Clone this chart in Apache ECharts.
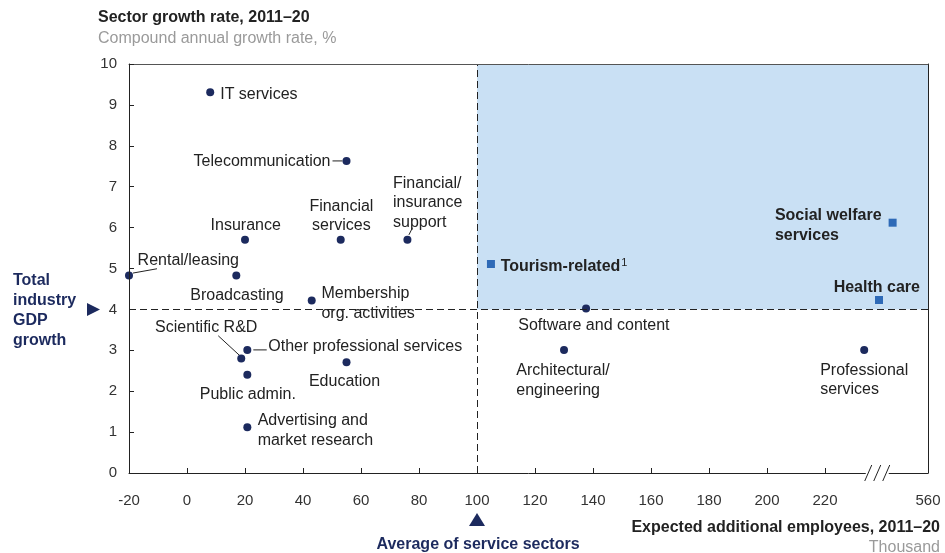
<!DOCTYPE html>
<html>
<head>
<meta charset="utf-8">
<script src="https://cdn.jsdelivr.net/npm/echarts@6/dist/echarts.min.js"></script>
<style>
html,body{margin:0;padding:0;background:#fff;}
#chart{width:945px;height:553px;}
</style>
</head>
<body>
<div id="chart"></div>
<script>
// ---------- data ----------
const dotNames = ['IT services','Telecommunication','Insurance','Financial services','Financial/insurance support','Rental/leasing','Broadcasting','Membership org. activities','Scientific R&D','Other professional services','Public admin.','Education','Advertising and market research','Software and content','Architectural/engineering','Professional services'];
const dotLabels = ['IT services','Telecommunication','Insurance','Financial\nservices','Financial/\ninsurance\nsupport','Rental/leasing','Broadcasting','Membership\n{w|org. activities}','Scientific R&D','Other professional services','Public admin.','Education','Advertising and\nmarket research','Software and content','Architectural/\nengineering','Professional\nservices'];
const dotX = [8, 55, 20, 53, 76, -20, 17, 43, 18.7, 20.8, 20.8, 55, 20.8, 137.6, 130, 233.5];
const dotY = [9.31, 7.63, 5.7, 5.7, 5.7, 4.83, 4.83, 4.22, 2.8, 3.01, 2.4, 2.71, 1.12, 4.02, 3.01, 3.01];

const sqNames = ['Tourism-related','Social welfare services','Health care'];
const sqLabels = ['{b|Tourism-related}{s|1}','{b|Social welfare}\n{b|services}','{b|Health care}'];
const sqX = [104.8, 243.3, 238.6];
const sqY = [5.11, 6.12, 4.23];

const avgX = 100;      // average of service sectors (thousand)
const gdpY = 4;        // total industry GDP growth (%)
const breakX = 238;    // axis break position
const xMin = -20, xMax = 255.5, xStep = 20;
const xMaxLabel = '560';
const yMin = 0, yMax = 10, yStep = 1;

// ---------- styles ----------
const FONT = "'Liberation Sans', Arial, Helvetica, sans-serif";
const TXT = '#222';
const NAVY = '#1c2a5e';
const BLUE = '#2e6ab7';
const SHADE = '#c9e0f4';
const GREY = '#9a9a9a';

// label offsets from point centre [dx, dy, align]
const dotLabelPos = [
  [10, 2, 'left'], [-16, 0.5, 'right'], [0.7, -14.5, 'center'], [0.7, -24, 'center'],
  [-14.4, -37, 'left'], [8.6, -15, 'left'], [0.7, 20, 'center'], [9.7, 3.3, 'left'],
  [-35, -30.5, 'center'], [21, -3, 'left'], [0.5, 19.8, 'center'], [-2, 19.2, 'center'],
  [10.3, 3.5, 'left'], [7.8, 16.8, 'center'], [-47.7, 30.5, 'left'], [-44, 30, 'left']
];
const sqLabelPos = [[9.7, 3, 'left'], [-117.7, 3, 'left'], [-2.2, -12.2, 'center']];
// leader lines: [x1, y1, x2, y2] px relative to point centre
const leaderPos = {
  'Telecommunication': [-14, 0, -4, 0],
  'Rental/leasing': [4, -2.4, 28, -6.7],
  'Financial/insurance support': [1.5, -5, 5, -12],
  'Scientific R&D': [-23, -22.7, -1.3, -2.7],
  'Other professional services': [6, 0, 19.4, 0]
};

function layoutFrom(pos) {
  return function (p) {
    const o = pos[p.dataIndex];
    return {
      x: p.rect.x + p.rect.width / 2 + o[0],
      y: p.rect.y + p.rect.height / 2 + o[1],
      align: o[2],
      verticalAlign: 'middle'
    };
  };
}

const chart = echarts.init(document.getElementById('chart'), null, {renderer: 'canvas'});

const option = {
  animation: false,
  textStyle: {fontFamily: FONT},
  grid: {left: 129, right: 17, top: 64, bottom: 80, show: false},
  xAxis: [{
    type: 'value', min: xMin, max: xMax, interval: xStep,
    axisLine: {show: true, onZero: false, lineStyle: {color: TXT, width: 1}},
    axisTick: {show: true, inside: true, length: 5, lineStyle: {color: TXT}},
    axisLabel: {
      margin: 20, fontSize: 15, color: '#333', fontFamily: FONT,
      showMaxLabel: true, showMinLabel: true,
      formatter: function (v) {
        if (v >= xMax - 0.01) return xMaxLabel;
        if (v > breakX - 5) return '';
        return String(v);
      }
    },
    splitLine: {show: false}, z: 10
  }, {
    type: 'value', position: 'top', min: xMin, max: xMax,
    axisLine: {show: true, onZero: false, lineStyle: {color: '#555', width: 1}},
    axisTick: {show: false}, axisLabel: {show: false}, splitLine: {show: false}, z: 10
  }],
  yAxis: [{
    type: 'value', min: yMin, max: yMax, interval: yStep,
    axisLine: {show: true, onZero: false, lineStyle: {color: TXT, width: 1}},
    axisTick: {show: true, inside: true, length: 5, lineStyle: {color: TXT}},
    axisLabel: {margin: 12, fontSize: 15, color: '#333', fontFamily: FONT},
    splitLine: {show: false}, z: 10
  }, {
    type: 'value', position: 'right', min: yMin, max: yMax,
    axisLine: {show: true, onZero: false, lineStyle: {color: TXT, width: 1}},
    axisTick: {show: false}, axisLabel: {show: false}, splitLine: {show: false}, z: 10
  }],
  series: [
    {
      type: 'scatter', data: [], z: 1, silent: true,
      markArea: {
        silent: true,
        itemStyle: {color: SHADE, opacity: 1},
        data: [[{xAxis: avgX, yAxis: gdpY}, {xAxis: xMax, yAxis: yMax}]]
      }
    },
    {
      type: 'scatter', data: [], z: 2, silent: true,
      markLine: {
        silent: true, symbol: 'none', label: {show: false},
        lineStyle: {color: TXT, width: 1, type: [7, 4], opacity: 1},
        data: [{xAxis: avgX}, {yAxis: gdpY}]
      }
    },
    {
      type: 'custom', z: 3, silent: true,
      data: dotNames.map((n, i) => [dotX[i], dotY[i]]),
      renderItem: function (params, api) {
        const l = leaderPos[dotNames[params.dataIndex]];
        if (!l) return null;
        const p = api.coord([api.value(0), api.value(1)]);
        return {
          type: 'line',
          shape: {x1: p[0] + l[0], y1: p[1] + l[1], x2: p[0] + l[2], y2: p[1] + l[3]},
          style: {stroke: TXT, lineWidth: 1}
        };
      }
    },
    {
      type: 'scatter', z: 4, symbol: 'circle', symbolSize: 8,
      itemStyle: {color: NAVY, opacity: 1},
      data: dotNames.map((n, i) => ({name: n, value: [dotX[i], dotY[i]]})),
      label: {
        show: true, color: TXT, fontSize: 16, lineHeight: 19.5, fontFamily: FONT,
        formatter: p => dotLabels[p.dataIndex],
        rich: {
          w: {color: TXT, fontSize: 16, lineHeight: 19.5, fontFamily: FONT, backgroundColor: '#fff'}
        }
      },
      labelLayout: layoutFrom(dotLabelPos)
    },
    {
      type: 'scatter', z: 4, symbol: 'rect', symbolSize: 8,
      itemStyle: {color: BLUE, opacity: 1},
      data: sqNames.map((n, i) => ({name: n, value: [sqX[i], sqY[i]]})),
      label: {
        show: true, color: TXT, fontFamily: FONT,
        formatter: p => sqLabels[p.dataIndex],
        rich: {
          b: {fontSize: 16, fontWeight: 'bold', color: TXT, lineHeight: 19.5, fontFamily: FONT},
          s: {fontSize: 11, color: TXT, verticalAlign: 'top', lineHeight: 19.5, padding: [0, 0, 0, 1], fontFamily: FONT}
        }
      },
      labelLayout: layoutFrom(sqLabelPos)
    },
    {
      type: 'custom', z: 12, silent: true, clip: false,
      data: [[breakX, yMin]],
      renderItem: function (params, api) {
        const p = api.coord([api.value(0), api.value(1)]);
        const children = [{
          type: 'rect', shape: {x: p[0] - 11.5, y: p[1] - 5, width: 23, height: 10},
          style: {fill: '#fff'}
        }];
        [-9, 0, 9].forEach(d => {
          children.push({
            type: 'line',
            shape: {x1: p[0] + d - 3.5, y1: p[1] + 8, x2: p[0] + d + 3.5, y2: p[1] - 8},
            style: {stroke: TXT, lineWidth: 1}
          });
        });
        return {type: 'group', children: children};
      }
    },
    {
      type: 'custom', z: 12, silent: true, clip: false,
      data: [[avgX, gdpY]],
      renderItem: function (params, api) {
        const pb = api.coord([api.value(0), yMin]);
        const pl = api.coord([xMin, api.value(1)]);
        return {
          type: 'group',
          children: [
            {type: 'polygon', shape: {points: [[pb[0] - 8, pb[1] + 53], [pb[0] + 8, pb[1] + 53], [pb[0], pb[1] + 40]]}, style: {fill: NAVY}},
            {type: 'polygon', shape: {points: [[pl[0] - 42, pl[1] - 6.5], [pl[0] - 42, pl[1] + 6.5], [pl[0] - 29, pl[1]]]}, style: {fill: NAVY}},
            {type: 'text', style: {x: pb[0] + 1, y: pb[1] + 72, text: 'Average of service sectors', fill: NAVY, font: 'bold 16px ' + FONT, align: 'center', verticalAlign: 'middle'}},
            {type: 'text', style: {x: 13, y: pl[1] + 1.5, text: 'Total\nindustry\nGDP\ngrowth', fill: NAVY, font: 'bold 16px ' + FONT, lineHeight: 20, align: 'left', verticalAlign: 'middle'}}
          ]
        };
      }
    }
  ],
  graphic: [
    {type: 'text', left: 98, top: 10, style: {text: 'Sector growth rate, 2011–20', fill: TXT, font: 'bold 16px ' + FONT}},
    {type: 'text', left: 98, top: 31, style: {text: 'Compound annual growth rate, %', fill: GREY, font: '16px ' + FONT}},
    {type: 'text', right: 5, top: 520, style: {text: 'Expected additional employees, 2011–20', fill: TXT, font: 'bold 16px ' + FONT}},
    {type: 'text', right: 5, top: 540, style: {text: 'Thousand', fill: GREY, font: '16px ' + FONT}}
  ]
};
chart.setOption(option);
</script>
</body>
</html>
